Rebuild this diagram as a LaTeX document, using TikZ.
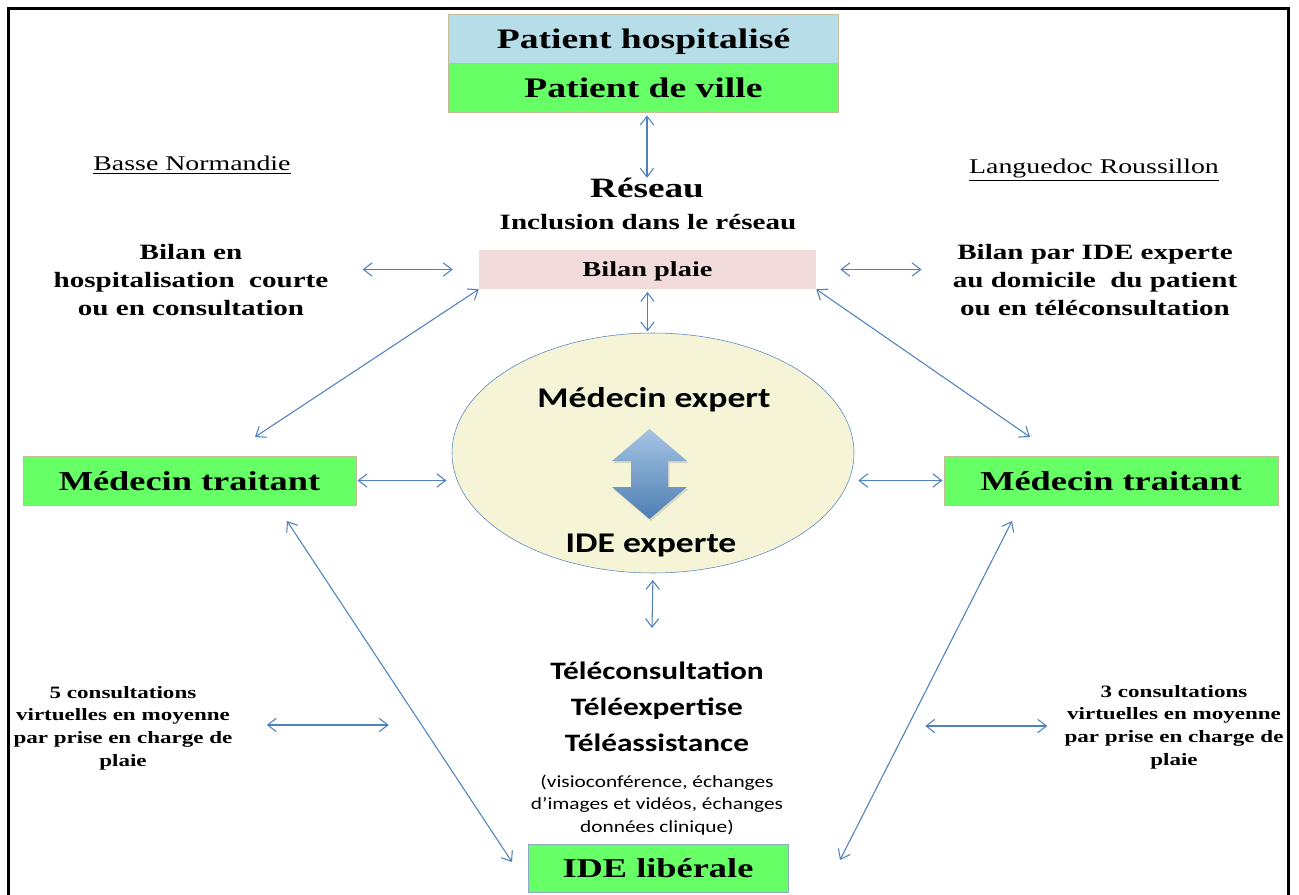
\documentclass[tikz,border=0pt]{standalone}
\usepackage{fontspec}
\setmainfont{Liberation Serif}[FakeStretch=1.33]
\newfontfamily\calib{Carlito}[FakeStretch=1.25]
\usetikzlibrary{arrows.meta,shapes.geometric,shadows,calc}

\definecolor{hospblue}{HTML}{B7DDE8}
\definecolor{villegreen}{HTML}{66FF66}
\definecolor{boxtan}{HTML}{C4BD97}
\definecolor{plaiepink}{HTML}{F2DCDB}
\definecolor{expertfill}{HTML}{F5F4D7}
\definecolor{linkblue}{HTML}{4F81BD}
\definecolor{idegray}{HTML}{8DA9C9}
\definecolor{arrowtop}{HTML}{A6C4E4}
\definecolor{arrowbot}{HTML}{4D7FB2}

\tikzset{
  link/.style={{Straight Barb[length=6.5pt,width=10pt]}-{Straight Barb[length=6.5pt,width=10pt]},
    draw=linkblue, line width=0.8pt},
  titlebox/.style={draw=boxtan, inner sep=0pt, text depth=0pt, minimum width=292.5pt, minimum height=36.75pt,
    font=\bfseries\fontsize{21.2}{25}\selectfont},
  greenbox/.style={draw=boxtan, fill=villegreen, inner sep=0pt, text depth=0pt, minimum height=36.75pt,
    font=\bfseries\fontsize{20.5}{24}\selectfont},
  region/.style={inner sep=0pt, font=\fontsize{15.7}{19}\selectfont},
  sidetext/.style={inner sep=0pt, align=center, font=\bfseries\fontsize{16.4}{21}\selectfont},
  constext/.style={inner sep=0pt, align=center, font=\bfseries\fontsize{13}{17}\selectfont},
  experttext/.style={inner sep=0pt, font=\calib\bfseries\fontsize{21.4}{25}\selectfont},
  teletext/.style={inner sep=0pt, align=center, font=\calib\bfseries\fontsize{18.8}{27}\selectfont},
  visiotext/.style={inner sep=0pt, align=center, font=\calib\fontsize{12.8}{17}\selectfont},
  blockarrow/.style={top color=arrowtop, bottom color=arrowbot,
    drop shadow={opacity=0.25, shadow xshift=1pt, shadow yshift=-1.5pt}}
}

\begin{document}
\begin{tikzpicture}[x=0.75pt,y=-0.75pt]
  \useasboundingbox (0,0) rectangle (1299,895);
  %frame
  \draw[line width=2.25pt] (8,895) -- (8,9) -- (1288,9) -- (1288,895);

  %patient
  \node[titlebox, fill=hospblue] (hosp) at (643.5,39) {Patient hospitalisé};
  \node[titlebox, fill=villegreen] (ville) at (643.5,88) {Patient de ville};

  %reseau
  \node[inner sep=0pt, font=\bfseries\fontsize{21}{25}\selectfont] (reseau) at (647,188) {Réseau};
  \node[inner sep=0pt, font=\bfseries\fontsize{16.4}{20}\selectfont] (incl) at (648,222) {Inclusion dans le réseau};
  \node[fill=plaiepink, inner sep=0pt, text depth=0pt, minimum width=252.75pt, minimum height=29.25pt,
    font=\bfseries\fontsize{16}{19}\selectfont] (bilan) at (647.5,269.5) {Bilan plaie};

  %regions
  \node[region] (bn) at (192,165) {\underline{Basse Normandie}};
  \node[region] (lr) at (1094,170) {\underline{Languedoc Roussillon}};
  \node[sidetext] (bilanL) at (191,280) {Bilan en\\hospitalisation\ \ courte\\ou en consultation};
  \node[sidetext] (bilanR) at (1095,280) {Bilan par IDE experte\\au domicile\ \ du patient\\ou en téléconsultation};

  %expert
  \node[ellipse, draw=linkblue, fill=expertfill, inner sep=0pt,
    minimum width=301.5pt, minimum height=180pt] (expert) at (653,453) {};
  \node[experttext] (medexp) at (654,400) {Médecin expert};
  \node[experttext] (ideexp) at (651,545) {IDE experte};
  \path[blockarrow] (649.5,429) -- (687,461) -- (668,461) -- (668,487) -- (687,487)
    -- (649.5,519) -- (612,487) -- (631,487) -- (631,461) -- (612,461) -- cycle;

  %traitants
  \node[greenbox, minimum width=249.75pt] (medL) at (189.5,480.5) {Médecin traitant};
  \node[greenbox, minimum width=250.5pt] (medR) at (1111,480.5) {Médecin traitant};
  \node[greenbox, draw=idegray, minimum width=195pt, minimum height=36pt] (idelib) at (658,868) {IDE libérale};

  %tele
  \node[teletext] (tele) at (657,707) {Téléconsultation\\Téléexpertise\\Téléassistance};
  \node[visiotext] (visio) at (657,805) {(visioconférence, échanges\\d’images et vidéos, échanges\\données clinique)};

  %consultations
  \node[constext] (consL) at (123,728) {5 consultations\\virtuelles en moyenne\\par prise en charge de\\plaie};
  \node[constext] (consR) at (1174,727) {3 consultations\\virtuelles en moyenne\\par prise en charge de\\plaie};

  %free ends
  \coordinate (mlT) at (255,437);
  \coordinate (mrT) at (1030,437);
  \coordinate (mlB) at (287,521);
  \coordinate (mrB) at (1012,521);
  \coordinate (ilL) at (512,862);
  \coordinate (ilR) at (840,860);
  \coordinate (teleT) at (652,628);

  %arrows
  \draw[link, shorten <=2pt] (ville.south -| reseau.north) -- (reseau.north);
  \draw[link, shorten <=2pt, shorten >=1pt] (bilan.south) -- (bilan.south |- expert.north);
  \draw[link] ($(bilanL.east |- bilan.west)+(34,0)$) -- ($(bilan.west)+(-26,0)$);
  \draw[link] ($(bilan.east)+(24,0)$) -- ($(bilanR.west |- bilan.east)+(-31,0)$);
  \draw[link, shorten <=1pt, shorten >=4pt] (medL.east) -- (medL.east -| expert.west);
  \draw[link, shorten <=3pt, shorten >=1pt] (medR.west -| expert.east) -- (medR.west);
  \draw[link] (mlT) -- (bilan.south west);
  \draw[link] (bilan.south east) -- (mrT);
  \draw[link] (mlB) -- (ilL);
  \draw[link] (mrB) -- (ilR);
  \draw[link, shorten <=5pt] (expert.south) -- (teleT);
  \draw[link] ($(consL.east)+(34,-3)$) -- ++(122,0);
  \draw[link] ($(consR.west)+(-139,-1)$) -- ++(122,0);

\end{tikzpicture}
\end{document}
